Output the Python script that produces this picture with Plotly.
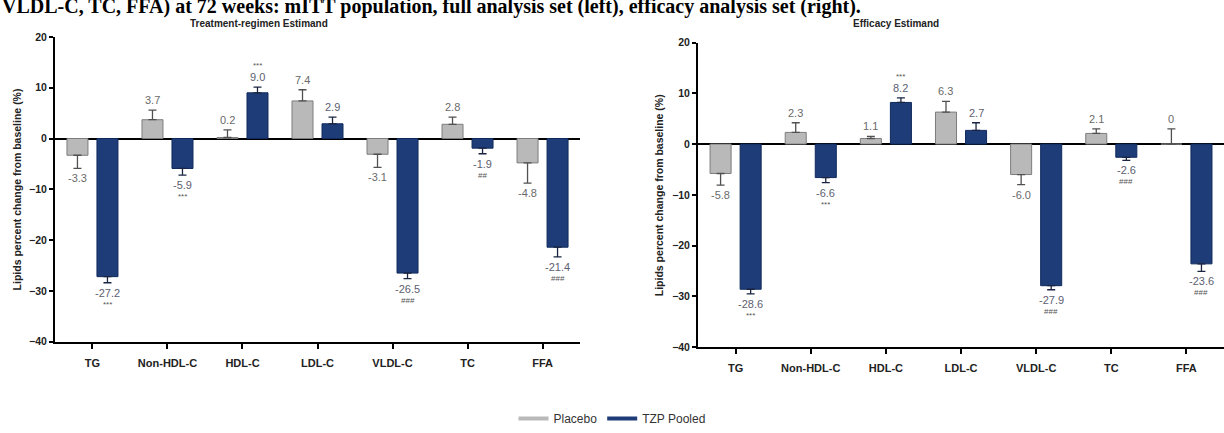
import plotly.graph_objects as go

categories = ["TG", "Non-HDL-C", "HDL-C", "LDL-C", "VLDL-C", "TC", "FFA"]
y_ticks = [-40, -30, -20, -10, 0, 10, 20]

# Treatment-regimen estimand (left)
tr_placebo = [-3.3, 3.7, 0.2, 7.4, -3.1, 2.8, -4.8]
tr_placebo_err = [2.6, 1.9, 1.5, 2.2, 2.6, 1.4, 4.0]
tr_placebo_lbl = ["-3.3", "3.7", "0.2", "7.4", "-3.1", "2.8", "-4.8"]
tr_tzp = [-27.2, -5.9, 9.0, 2.9, -26.5, -1.9, -21.4]
tr_tzp_err = [1.2, 1.3, 1.1, 1.3, 1.1, 1.1, 1.9]
tr_tzp_lbl = ["-27.2", "-5.9", "9.0", "2.9", "-26.5", "-1.9", "-21.4"]
tr_tzp_sig = ["***", "***", "***", "", "###", "##", "###"]

# Efficacy estimand (right)
ef_placebo = [-5.8, 2.3, 1.1, 6.3, -6.0, 2.1, 0.0]
ef_placebo_err = [2.3, 1.9, 0.4, 2.1, 2.0, 0.9, 3.0]
ef_placebo_lbl = ["-5.8", "2.3", "1.1", "6.3", "-6.0", "2.1", "0"]
ef_tzp = [-28.6, -6.6, 8.2, 2.7, -27.9, -2.6, -23.6]
ef_tzp_err = [0.9, 1.0, 0.9, 1.5, 0.8, 0.6, 1.5]
ef_tzp_lbl = ["-28.6", "-6.6", "8.2", "2.7", "-27.9", "-2.6", "-23.6"]
ef_tzp_sig = ["***", "***", "***", "", "###", "###", "###"]

panel_titles = ["Treatment-regimen Estimand", "Efficacy Estimand"]
y_title = "Lipids percent change from baseline (%)"
header = "VLDL-C, TC, FFA) at 72 weeks: mITT population, full analysis set (left), efficacy analysis set (right)."

PLACEBO_FILL = "#b9b9b9"
PLACEBO_LINE = "#7d7d7d"
TZP_FILL = "#1d3c78"
TZP_LINE = "#102a5c"
FONT = "Liberation Sans"

xs = list(range(len(categories)))
fig = go.Figure()
annotations = []

panels = [
    (tr_placebo, tr_placebo_err, tr_placebo_lbl, tr_tzp, tr_tzp_err, tr_tzp_lbl, tr_tzp_sig, "x", "y"),
    (ef_placebo, ef_placebo_err, ef_placebo_lbl, ef_tzp, ef_tzp_err, ef_tzp_lbl, ef_tzp_sig, "x2", "y2"),
]

W, OFF = 0.28, 0.2
for (pv, pe, pl, tv, te, tl, ts, xa, ya) in panels:
    for vals, errs, fill, line, ecol, off in [
        (pv, pe, PLACEBO_FILL, PLACEBO_LINE, "#505050", -OFF),
        (tv, te, TZP_FILL, TZP_LINE, "#1a2440", OFF),
    ]:
        up = [e if v >= 0 else 0 for v, e in zip(vals, errs)]
        dn = [0 if v >= 0 else e for v, e in zip(vals, errs)]
        fig.add_trace(go.Bar(
            x=xs, y=vals, xaxis=xa, yaxis=ya, width=W, offset=off - W / 2,
            marker=dict(color=fill, line=dict(color=line, width=1)),
            error_y=dict(type="data", symmetric=False, array=up, arrayminus=dn,
                         color=ecol, thickness=1.3, width=4),
            showlegend=False, hoverinfo="skip",
        ))
    for vals, errs, lbls, off, col in [(pv, pe, pl, -OFF, "#6a6a6a"), (tv, te, tl, OFF, "#5c6070")]:
        for i, (v, e, t) in enumerate(zip(vals, errs, lbls)):
            pos = v >= 0
            end = v + e if pos else v - e
            annotations.append(dict(
                x=i + off, y=end, xref=xa, yref=ya, text=t, showarrow=False,
                xanchor="center", yanchor="bottom" if pos else "top", yshift=2 if pos else -2,
                font=dict(family=FONT, size=11, color=col)))
    for i, (v, e, s) in enumerate(zip(tv, te, ts)):
        if not s:
            continue
        pos = v >= 0
        end = v + e if pos else v - e
        annotations.append(dict(
            x=i + OFF, y=end, xref=xa, yref=ya, text=s, showarrow=False,
            xanchor="center", yanchor="bottom" if pos else "top", yshift=15 if pos else -15,
            font=dict(family=FONT, size=8, color="#555555")))

# legend entries
fig.add_trace(go.Scatter(x=[None], y=[None], mode="lines", name="Placebo",
                         line=dict(color=PLACEBO_FILL, width=4)))
fig.add_trace(go.Scatter(x=[None], y=[None], mode="lines", name="TZP Pooled",
                         line=dict(color=TZP_FILL, width=4)))

xcommon = dict(range=[-0.5, 6.5], tickvals=xs, ticktext=categories, showline=True,
               linecolor="black", linewidth=2, ticks="outside", ticklen=5, tickwidth=2,
               tickcolor="black", showgrid=False, zeroline=False, ticklabelstandoff=5,
               tickfont=dict(family=FONT, size=11, color="#222222", weight="bold"), fixedrange=True)
ycommon = dict(range=[-40, 20], tickvals=y_ticks, showline=True, linecolor="black",
               linewidth=2, ticks="outside", ticklen=4, tickwidth=2, tickcolor="black",
               showgrid=False, zeroline=True, zerolinecolor="black", zerolinewidth=2,
               tickfont=dict(family=FONT, size=10.5, color="#222222", weight="bold"), fixedrange=True)

fig.update_layout(
    width=1224, height=433, margin=dict(l=0, r=0, t=0, b=0),
    paper_bgcolor="white", plot_bgcolor="white", barmode="overlay",
    xaxis=dict(domain=[0.0449, 0.4739], anchor="y", **xcommon),
    yaxis=dict(domain=[0.197, 0.926], anchor="x", **ycommon),
    xaxis2=dict(domain=[0.5703, 1.0], anchor="y2", **xcommon),
    yaxis2=dict(domain=[0.184, 0.9125], anchor="x2", **ycommon),
    legend=dict(orientation="h", x=0.5, xanchor="center", y=0.012, yanchor="middle",
                font=dict(family=FONT, size=12, color="#333333"), itemwidth=30),
    showlegend=True,
)

# titles
annotations += [
    dict(x=0, y=1.0, xref="paper", yref="paper", xanchor="left", yanchor="middle",
         text="<b>" + header + "</b>", showarrow=False,
         font=dict(family="Liberation Serif", size=20, color="black")),
    dict(x=259 / 1224, y=1 - 18 / 433, xref="paper", yref="paper", xanchor="center",
         yanchor="middle", text=panel_titles[0], showarrow=False,
         font=dict(family=FONT, size=10, color="#222222", weight="bold")),
    dict(x=896 / 1224, y=1 - 18 / 433, xref="paper", yref="paper", xanchor="center",
         yanchor="middle", text=panel_titles[1], showarrow=False,
         font=dict(family=FONT, size=10, color="#222222", weight="bold")),
    dict(x=17 / 1224, y=1 - 190 / 433, xref="paper", yref="paper", xanchor="center",
         yanchor="middle", text=y_title, textangle=-90, showarrow=False,
         font=dict(family=FONT, size=10.5, color="#222222", weight="bold")),
    dict(x=659 / 1224, y=1 - 196 / 433, xref="paper", yref="paper", xanchor="center",
         yanchor="middle", text=y_title, textangle=-90, showarrow=False,
         font=dict(family=FONT, size=10.5, color="#222222", weight="bold")),
]
fig.update_layout(annotations=annotations)
fig.write_html("out.html")
